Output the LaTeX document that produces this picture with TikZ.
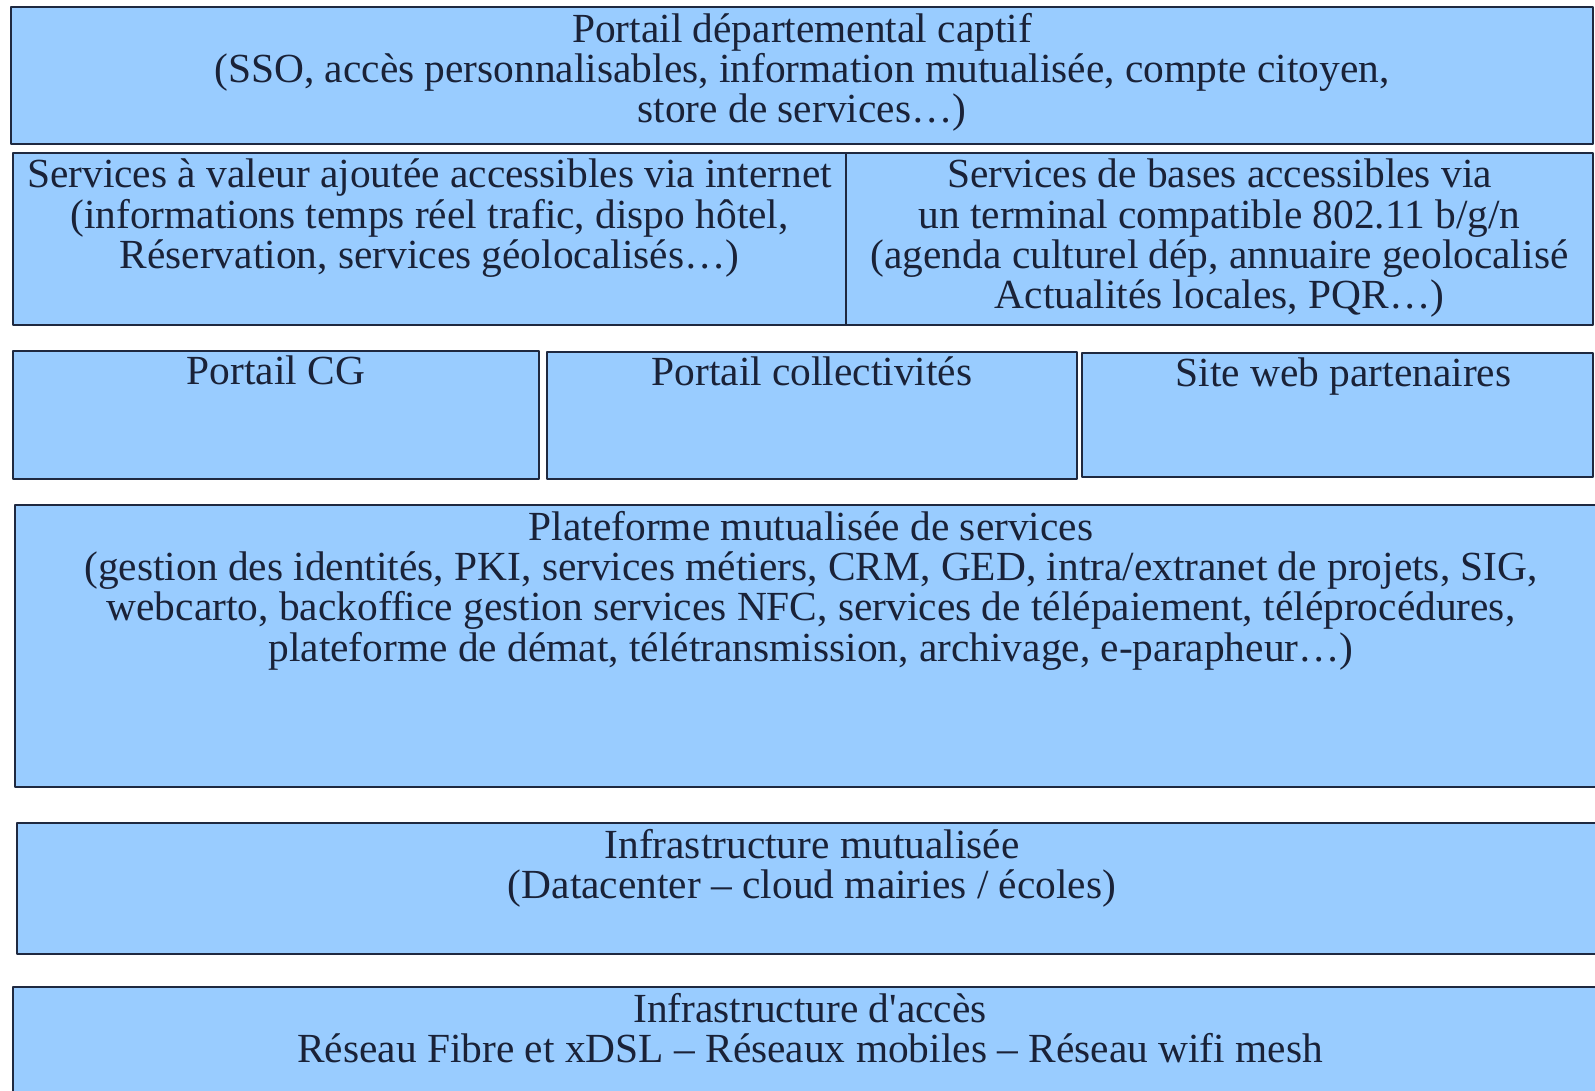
\documentclass[tikz,border=0pt]{standalone}
\usepackage{fontspec}
\setmainfont{Liberation Serif}
\usetikzlibrary{positioning}
\definecolor{boxblue}{HTML}{99CCFF}
\definecolor{boxline}{HTML}{1F2940}
\definecolor{ink}{HTML}{1A2238}
\begin{document}
\begin{tikzpicture}[x=1pt, y=-1pt, line join=round,
    layer/.style={draw=boxline, line width=2pt, fill=boxblue, anchor=north west, inner sep=0pt, outer sep=0pt},
    caption/.style={anchor=north, inner sep=0pt, align=center, text=ink,
      font=\fontsize{41.4}{40.3}\selectfont, execute at begin node=\strut}]
  \useasboundingbox (0,0) rectangle (1595,1091);
  \fill[white] (0,0) rectangle (1595,1091);
  \clip (0,0) rectangle (1595,1091);
  % portail
  \node[layer, minimum width=1582pt, minimum height=137pt] (portail) at (11,7) {};
  \node[caption, below=6pt of portail.north] (portailtxt) {Portail départemental captif\\(SSO, accès personnalisables, information mutualisée, compte citoyen,\\store de services…)};
  % services
  \node[layer, minimum width=833pt, minimum height=172pt] (valeur) at (13,153) {};
  \node[layer, minimum width=747pt, minimum height=172pt] (bases) at (846,153) {};
  \node[caption, below=6pt of valeur.north] (valeurtxt) {Services à valeur ajoutée accessibles via internet\\(informations temps réel trafic, dispo hôtel,\\Réservation, services géolocalisés…)};
  \node[caption, below=6pt of bases.north] (basestxt) {Services de bases accessibles via\\un terminal compatible 802.11 b/g/n\\(agenda culturel dép, annuaire geolocalisé\\Actualités locales, PQR…)};
  % portails
  \node[layer, minimum width=526pt, minimum height=128pt] (cg) at (13,351) {};
  \node[layer, minimum width=530pt, minimum height=127pt] (collectivites) at (547,352) {};
  \node[layer, minimum width=511pt, minimum height=124pt] (partenaires) at (1082,353) {};
  \node[caption, below=5pt of cg.north] (cgtxt) {Portail CG};
  \node[caption, below=5pt of collectivites.north] (collectivitestxt) {Portail collectivités};
  \node[caption, below=5pt of partenaires.north, xshift=6pt] (partenairestxt) {Site web partenaires};
  % plateforme
  \node[layer, minimum width=1592pt, minimum height=282pt] (plateforme) at (15,505) {};
  \node[caption, below=6pt of plateforme.north] (plateformetxt) {Plateforme mutualisée de services\\(gestion des identités, PKI, services métiers, CRM, GED, intra/extranet de projets, SIG,\\webcarto, backoffice gestion services NFC, services de télépaiement, téléprocédures,\\plateforme de démat, télétransmission, archivage, e-parapheur…)};
  % infrastructures
  \node[layer, minimum width=1590pt, minimum height=131pt] (datacenter) at (17,823) {};
  \node[caption, below=6pt of datacenter.north] (datacentertxt) {Infrastructure mutualisée\\(Datacenter – cloud mairies / écoles)};
  \node[layer, minimum width=1594pt, minimum height=140pt] (acces) at (13,987) {};
  \node[caption, below=6pt of acces.north] (accestxt) {Infrastructure d\textquotesingle accès\\Réseau Fibre et xDSL – Réseaux mobiles – Réseau wifi mesh};
\end{tikzpicture}
\end{document}
